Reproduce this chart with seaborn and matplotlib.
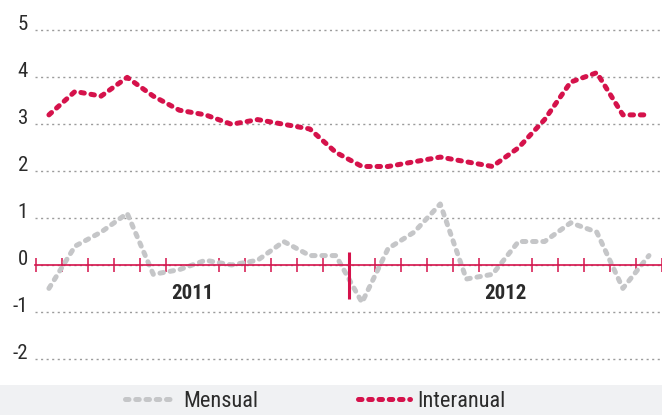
import matplotlib.pyplot as plt
import numpy as np
import pandas as pd
import seaborn as sns
from matplotlib.lines import Line2D
from matplotlib.patches import Rectangle

# data, one value per month (Jan 2011 .. Dec 2012)
years = ["2011", "2012"]
months_per_year = 12
mensual = [-0.5, 0.4, 0.7, 1.1, -0.2, -0.1, 0.1, 0.0, 0.1, 0.5, 0.2, 0.2,
           -0.8, 0.35, 0.7, 1.3, -0.3, -0.2, 0.5, 0.5, 0.9, 0.7, -0.5, 0.2]
interanual = [3.2, 3.7, 3.6, 4.0, 3.6, 3.3, 3.2, 3.0, 3.1, 3.0, 2.9, 2.4,
              2.1, 2.1, 2.2, 2.3, 2.2, 2.1, 2.5, 3.1, 3.9, 4.1, 3.2, 3.2]
y_ticks = [-2, -1, 0, 1, 2, 3, 4, 5]

RED = "#d5124b"
GRAY = "#c5c6c8"
TEXT = "#2b2b2b"

sns.set_theme(style="white")
plt.rcParams["font.family"] = ["Roboto Condensed", "Liberation Sans Narrow", "DejaVu Sans"]
plt.rcParams["font.stretch"] = "condensed"

n = len(mensual)
df = pd.DataFrame({"mes": np.arange(n), "Mensual": mensual, "Interanual": interanual})
df = df.melt(id_vars="mes", var_name="serie", value_name="valor")

fig = plt.figure(figsize=(6.62, 4.15), dpi=100)
ax = fig.add_axes([35 / 662, 30 / 415, 627 / 662, 385 / 415])

dash = (0.7, 1.35)
sns.lineplot(data=df, x="mes", y="valor", hue="serie", style="serie",
             palette={"Mensual": GRAY, "Interanual": RED},
             dashes={"Mensual": dash, "Interanual": dash},
             linewidth=3.6, legend=False, ax=ax)
for line in ax.lines:
    line.set_dash_capstyle("round")

ax.set_xlim(-0.534, 23.4)
ax.set_ylim(-2.56, 5.65)
ax.set_xlabel("")
ax.set_ylabel("")

# y axis: numbers sit on dotted gridlines
ax.set_yticks(y_ticks)
ax.set_yticklabels([str(v) for v in y_ticks])
ax.tick_params(axis="y", length=0, pad=5, labelsize=15, labelcolor=TEXT)
for lab in ax.get_yticklabels():
    lab.set_verticalalignment("baseline")
ax.grid(axis="y", color="#9b9b9b", linestyle=(0, (1.5, 2.5)), linewidth=1)
ax.grid(axis="x", visible=False)

# x axis drawn at zero in red with month ticks
for side in ["top", "right", "left"]:
    ax.spines[side].set_visible(False)
ax.spines["bottom"].set_position(("data", 0))
ax.spines["bottom"].set_color(RED)
ax.spines["bottom"].set_linewidth(1.2)
ax.spines["bottom"].set_zorder(3)

centers = [i * months_per_year + (months_per_year - 1) / 2 for i in range(len(years))]
ax.set_xticks(centers)
ax.set_xticklabels(years, fontweight="bold")
ax.set_xticks(np.arange(-0.5, n, 1), minor=True)
ax.tick_params(axis="x", which="major", bottom=True, length=0, pad=14,
               labelsize=15, labelcolor=TEXT)
ax.tick_params(axis="x", which="minor", bottom=True, length=9.5, width=1.1,
               color=RED, direction="inout")

# year divider
boundary = months_per_year - 0.5
ax.vlines(boundary, -0.72, 0.27, color=RED, linewidth=2.2, zorder=3)

# legend band
fig.patches.append(Rectangle((0, 0), 1, 30 / 415, transform=fig.transFigure,
                             facecolor="#f0f1f3", edgecolor="none", zorder=0))
handles = [
    Line2D([], [], color=GRAY, lw=3.6, dashes=dash, dash_capstyle="round"),
    Line2D([], [], color=RED, lw=3.6, dashes=dash, dash_capstyle="round"),
]
leg = fig.legend(handles, ["Mensual", "Interanual"], loc="lower center",
                 bbox_to_anchor=(0.476, 0.0), ncol=2, frameon=False,
                 fontsize=16, handlelength=2.3, handletextpad=0.35,
                 columnspacing=4.5, borderpad=0.05, borderaxespad=0.1)
for t in leg.get_texts():
    t.set_color(TEXT)

fig.savefig("out.png", dpi=100)
